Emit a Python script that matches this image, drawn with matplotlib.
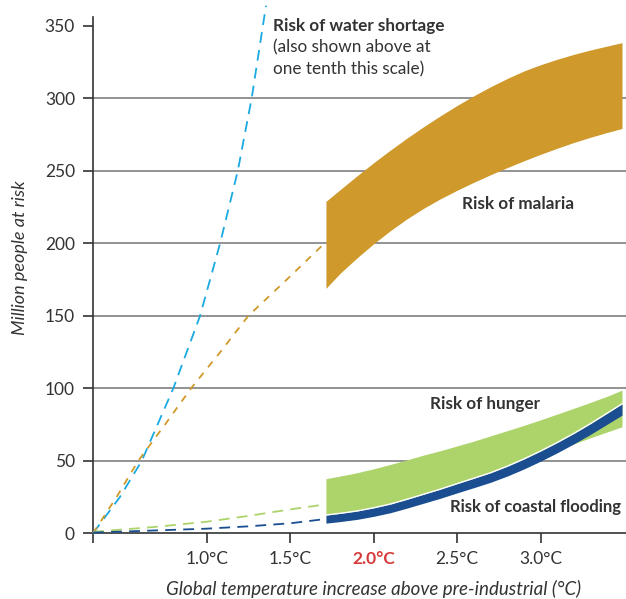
import matplotlib.pyplot as plt

plt.rcParams['font.family'] = ['Lato', 'DejaVu Sans']
plt.rcParams['font.size'] = 12

# temperature (deg C) grid used by the solid bands
band_t = [1.714, 1.8, 1.9, 2.0, 2.1, 2.2, 2.3, 2.4, 2.5, 2.6, 2.7, 2.8, 2.9, 3.0, 3.1, 3.2, 3.3, 3.4, 3.487]
malaria_hi = [229, 237.2, 246.6, 255.7, 264.4, 272.7, 280.6, 288.1, 295.2, 301.9, 308.1, 313.8, 319,
			  323.3, 327.1, 330.5, 333.5, 336.2, 338.5]
malaria_lo = [169, 179.5, 190, 199.8, 208.8, 217, 224.3, 230.8, 236.7, 242.2, 247.4, 252.3, 257,
			  261.5, 265.7, 269.7, 273.3, 276.6, 279.3]
hunger_hi = [37.7, 39.5, 41.8, 44.5, 47.5, 50.7, 54, 57, 60.3, 63.6, 67.2, 70.8, 74.5,
			 78.3, 82.3, 86.3, 90.4, 94.6, 98.8]
hunger_lo = [12.6, 13.8, 15.4, 17.6, 20.2, 23.5, 27, 30.5, 34.3, 38, 41.8, 46.3, 51.3,
			 53.5, 57.5, 61.8, 66, 70, 73.5]
coastal_hi = [12.6, 13.8, 15.4, 17.6, 20.2, 23.5, 27, 30.5, 34.3, 38, 41.8, 46.3, 51.3,
			  56.8, 62.7, 69, 75.8, 83, 89.3]
coastal_lo = [7, 8.1, 9.6, 11.7, 14.2, 17.4, 20.8, 24.2, 27.9, 31.5, 35.2, 39.5, 44.4,
			  49.8, 55.6, 61.8, 68.4, 75.4, 81.5]

# dashed lead-in curves
water_t = [0.319, 0.48, 0.611, 0.80, 0.96, 1.08, 1.186, 1.269, 1.355]
water_v = [0, 25, 50, 100, 150, 200, 250, 300, 364]
malaria_dash_t = [0.319, 0.46, 0.590, 0.750, 0.906, 1.081, 1.249, 1.479, 1.714]
malaria_dash_v = [0, 25, 50, 75, 100, 125, 150, 175, 201]
hunger_dash_t = [0.319, 0.7, 1.0, 1.25, 1.5, 1.714]
hunger_dash_v = [1, 4.5, 8, 12, 16.5, 20]
coastal_dash_t = [0.319, 0.7, 1.0, 1.25, 1.5, 1.714]
coastal_dash_v = [0.5, 2, 3.2, 4.8, 6.9, 9.9]

xticks = [1.0, 1.5, 2.0, 2.5, 3.0]
xticklabels = ['1.0°C', '1.5°C', '2.0°C', '2.5°C', '3.0°C']
yticks = [0, 50, 100, 150, 200, 250, 300, 350]

c_water = '#1aa9e0'
c_malaria = '#cf992b'
c_hunger = '#acd46a'
c_coastal = '#1a4e91'
c_text = '#333333'

fig = plt.figure(figsize=(6.26, 5.99), dpi=100)
ax = fig.add_axes([93 / 626, 65.7 / 599, 533 / 626, 516 / 599])

for y in yticks[1:-1]:
	ax.axhline(y, color='#8a8a8a', linewidth=1.3, zorder=0)

ax.fill_between(band_t, malaria_lo, malaria_hi, color=c_malaria, linewidth=0, zorder=2)
ax.fill_between(band_t, hunger_lo, hunger_hi, color=c_hunger, linewidth=0, zorder=2)
ax.fill_between(band_t, coastal_lo, coastal_hi, color=c_coastal, linewidth=0, zorder=3)
# thin white seam where the flooding band meets the hunger band
ax.plot(band_t, coastal_hi, color='white', linewidth=1.0, zorder=3)

ax.plot(water_t, water_v, color=c_water, linewidth=1.3, dashes=(6, 4), clip_on=False, zorder=4)
ax.plot(malaria_dash_t, malaria_dash_v, color=c_malaria, linewidth=1.3, dashes=(4, 4), clip_on=False, zorder=4)
ax.plot(hunger_dash_t, hunger_dash_v, color=c_hunger, linewidth=1.3, dashes=(6, 4), clip_on=False, zorder=4)
ax.plot(coastal_dash_t, coastal_dash_v, color=c_coastal, linewidth=1.3, dashes=(6, 4), clip_on=False, zorder=4)

ax.set_xlim(0.319, 3.511)
ax.set_ylim(0, 356)

for s in ['top', 'right']:
	ax.spines[s].set_visible(False)
for s in ['left', 'bottom']:
	ax.spines[s].set_color(c_text)
	ax.spines[s].set_linewidth(1.2)

ax.set_xticks([0.319] + xticks)
ax.set_xticklabels([''] + xticklabels)
ax.set_yticks(yticks)
ax.tick_params(length=7, width=1.2, color=c_text, labelcolor=c_text, labelsize=12.5, pad=6)
lbl = ax.get_xticklabels()[3]
lbl.set_color('#d63a3a')
lbl.set_fontweight('bold')

fig.text(20 / 626, 1 - 258 / 599, 'Million people at risk', style='italic', fontsize=13,
		 color=c_text, rotation=90, ha='center', va='center')
fig.text(374 / 626, 1 - 589 / 599, 'Global temperature increase above pre-industrial (°C)',
		 style='italic', fontsize=13.5, color=c_text, ha='center', va='center')

ax.text(1.397, 350, 'Risk of water shortage', fontweight='bold', fontsize=12.3, color=c_text, va='center')
ax.text(1.397, 335, '(also shown above at', fontsize=12.3, color=c_text, va='center')
ax.text(1.397, 320, 'one tenth this scale)', fontsize=12.3, color=c_text, va='center')
ax.text(2.529, 227, 'Risk of malaria', fontweight='bold', fontsize=12.3, color=c_text, va='center')
ax.text(2.337, 89, 'Risk of hunger', fontweight='bold', fontsize=12.3, color=c_text, va='center')
ax.text(2.457, 18, 'Risk of coastal flooding', fontweight='bold', fontsize=12, color=c_text, va='center')

plt.savefig('out.png', dpi=100)
